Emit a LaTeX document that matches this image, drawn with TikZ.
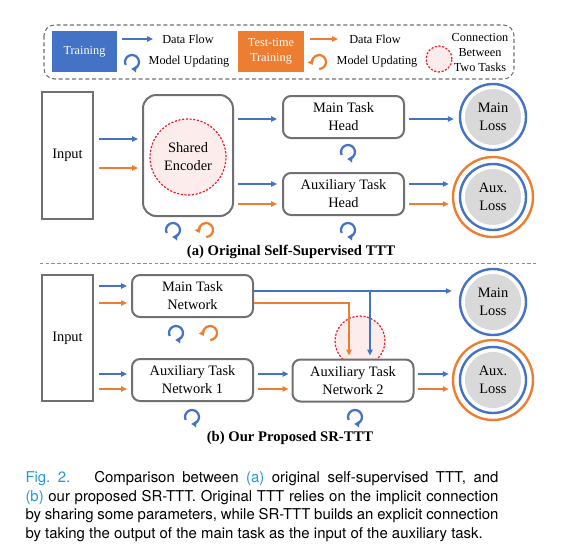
\documentclass[tikz,border=0pt]{standalone}
\usepackage{fontspec}
\setmainfont{Liberation Serif}
\newfontfamily\capfont{TeX Gyre Heros}
\usetikzlibrary{calc,arrows.meta}

\definecolor{trblue}{RGB}{68,114,196}
\definecolor{ttorange}{RGB}{237,125,49}
\definecolor{boxgray}{RGB}{112,112,112}
\definecolor{lossgray}{RGB}{217,217,217}
\definecolor{connred}{RGB}{238,28,37}
\definecolor{connpink}{RGB}{253,236,236}
\definecolor{figblue}{RGB}{35,150,220}

\newcommand{\boxfont}{\fontsize{10.8}{13.5}\selectfont}
\newcommand{\legfont}{\fontsize{9.2}{11.6}\selectfont}

\tikzset{every picture/.style={line width=0.75pt}}
\tikzset{
  blk/.style={draw=boxgray, line width=1.5pt, fill=white, rounded corners=6pt, align=center, inner sep=0pt,
    minimum width=90.75pt, minimum height=31.5pt, font=\boxfont},
  inbox/.style={draw=boxgray, line width=1.2pt, fill=white, inner sep=0pt,
    minimum width=38.25pt, minimum height=95.25pt, font=\boxfont},
  loss/.style={circle, draw=trblue, line width=1.8pt, fill=white, minimum size=49.5pt, inner sep=0pt,
    align=center, font=\boxfont,
    path picture={\fill[lossgray] (path picture bounding box.center) circle[radius=21pt];}},
  oring/.style={draw=ttorange, line width=1.8pt},
  conn/.style={circle, draw=connred, dashed, dash pattern=on 1.6pt off 1.2pt, fill=connpink, line width=0.9pt,
    inner sep=0pt, align=center, font=\boxfont},
  barr/.style={draw=trblue, line width=1.1pt, -{Triangle[length=4.5pt,width=4pt]}},
  oarr/.style={draw=ttorange, line width=1.1pt, -{Triangle[length=4.5pt,width=4pt]}},
  bloop/.pic={\draw[trblue, line width=1.7pt, -{Triangle[length=3.4pt,width=5pt]}]
    (205:7) arc[start angle=205, end angle=-92, radius=7];},
  oloop/.pic={\draw[ttorange, line width=1.7pt, -{Triangle[length=3.4pt,width=5pt]}]
    (-88:7) arc[start angle=-88, end angle=205, radius=7];}
}

\begin{document}
\begin{tikzpicture}[x=0.75pt,y=0.75pt,yscale=-1,xscale=1]
\useasboundingbox (0,0) rectangle (576,551);

%Shape: Legend frame
\draw [boxgray, dashed, dash pattern=on 3pt off 2pt, line width=0.8pt, rounded corners=8pt] (44,25) rectangle (514,79);

% Legend: training
\node [fill=trblue, text=white, inner sep=0pt, minimum width=48.75pt, minimum height=30.75pt, font=\legfont] (legTrain) at (84.5,51.5) {Training};
\coordinate (lgB1) at (122,39);
\coordinate (lgB2) at (153,39);
\draw [barr] (lgB1) -- (lgB2);
\node [font=\legfont] (lgFlowB) at (188,39) {Data Flow};
\pic at (132,62) {bloop};
\node [font=\legfont] (lgUpdB) at (189,62) {Model Updating};

% Legend: test-time training
\node [fill=ttorange, text=white, inner sep=0pt, minimum width=49.5pt, minimum height=30.75pt, align=center, font=\legfont] (legTest) at (271,51.5) {Test-time\\Training};
\coordinate (lgO1) at (310,39);
\coordinate (lgO2) at (338,39);
\draw [oarr] (lgO1) -- (lgO2);
\node [font=\legfont] (lgFlowO) at (375,39) {Data Flow};
\pic at (319,62) {oloop};
\node [font=\legfont] (lgUpdO) at (377,62) {Model Updating};

% Legend: connection
\node [conn, minimum size=19.5pt] (lgConn) at (439,59) {};
\node [align=center, font=\legfont] (lgConnTxt) at (480,52.5) {Connection\\Between\\Two Tasks};

%%%% (a) original self-supervised TTT
\node [inbox] (inA) at (67.5,155.5) {Input};
\node [blk, rounded corners=10pt, minimum width=67.5pt, minimum height=90.75pt] (enc) at (188,155.5) {};
\node [conn, minimum size=57pt] (shared) at (188,157) {Shared\\Encoder};
\node [blk] (mainHead) at (343.5,117) {Main Task\\Head};
\node [blk] (auxHead) at (343.5,194) {Auxiliary Task\\Head};
\node [loss] (mainLossA) at (493,117) {Main\\Loss};
\draw [oring] (493,197) circle [radius=40];
\node [loss] (auxLossA) at (493,197) {Aux.\\Loss};

% data flow (a)
\draw [barr] ($(inA.east)+(5,-16.5)$) -- ($(enc.west)+(-4,-16.5)$);
\draw [oarr] ($(inA.east)+(5,12.5)$) -- ($(enc.west)+(-4,12.5)$);
\draw [barr] ($(enc.east |- mainHead.west)+(4,2)$) -- ($(mainHead.west)+(-5,2)$);
\draw [barr] ($(enc.east |- auxHead.west)+(4,-10)$) -- ($(auxHead.west)+(-5,-10)$);
\draw [oarr] ($(enc.east |- auxHead.west)+(4,10)$) -- ($(auxHead.west)+(-5,10)$);
\draw [barr] ($(mainHead.east)+(4,2)$) -- ($(mainLossA.west |- mainHead.east)+(-5,2)$);
\draw [barr] ($(auxHead.east)+(4,-10)$) -- ($(auxLossA.west |- auxHead.east)+(-10,-10)$);
\draw [oarr] ($(auxHead.east)+(4,10)$) -- ($(auxLossA.west |- auxHead.east)+(-10,10)$);

% model updating (a)
\pic at (173,230) {bloop};
\pic at (206,230) {oloop};
\pic at (348,152) {bloop};
\pic at (348,230) {bloop};

% Text Node
\node [font=\bfseries\fontsize{11}{13}\selectfont] (capA) at (291,252) {(a) Original Self-Supervised TTT};

%Shape: separator
\draw [boxgray!80, dashed, dash pattern=on 2.5pt off 1.8pt, line width=0.6pt] (40,263) -- (537,263);

%%%% (b) our proposed SR-TTT
\node [inbox, minimum height=94.5pt] (inB) at (67.5,338) {Input};
\node [blk] (mainNet) at (192.5,296) {Main Task\\Network};
\node [blk] (auxNet1) at (192.5,380) {Auxiliary Task\\Network 1};
\node [conn, minimum size=37.5pt] (connB) at (360,341) {};
\node [blk] (auxNet2) at (353,380.5) {Auxiliary Task\\Network 2};
\node [loss] (mainLossB) at (493,302) {Main\\Loss};
\draw [oring] (493,380) circle [radius=40];
\node [loss] (auxLossB) at (493,380) {Aux.\\Loss};

% data flow (b)
\draw [barr] ($(inB.east)+(5,-52)$) -- ($(mainNet.west)+(-4,-10)$);
\draw [oarr] ($(inB.east)+(5,-35)$) -- ($(mainNet.west)+(-4,7)$);
\draw [barr] ($(inB.east)+(5,36)$) -- ($(auxNet1.west)+(-4,-6)$);
\draw [oarr] ($(inB.east)+(5,51)$) -- ($(auxNet1.west)+(-4,9)$);

\coordinate (mOutB) at ($(mainNet.east)+(0,-5)$);
\coordinate (mOutO) at ($(mainNet.east)+(0,7)$);
\coordinate (brB) at ($(auxNet2.north)+(17,-3)$);
\coordinate (brO) at ($(auxNet2.north)+(-4,-3)$);
\draw [barr] (mOutB) -- ($(mOutB -| mainLossB.west)+(-7,0)$);
\draw [barr] (mOutB -| brB) -- (brB);
\draw [oarr] (mOutO) -- (mOutO -| brO) -- (brO);

\draw [barr] ($(auxNet1.east)+(4,-6)$) -- ($(auxNet2.west)+(-3,-6.5)$);
\draw [oarr] ($(auxNet1.east)+(4,9)$) -- ($(auxNet2.west)+(-3,8.5)$);
\draw [barr] ($(auxNet2.east)+(3,-6.5)$) -- ($(auxLossB.west |- auxNet2.east)+(-10,-6.5)$);
\draw [oarr] ($(auxNet2.east)+(3,8.5)$) -- ($(auxLossB.west |- auxNet2.east)+(-10,8.5)$);

% model updating (b)
\pic at (176,333) {bloop};
\pic at (210,333) {oloop};
\pic at (192,417) {bloop};
\pic at (355,417) {bloop};

% Text Node
\node [font=\bfseries\fontsize{11}{13}\selectfont] (capB) at (290,438) {(b) Our Proposed SR-TTT};

% Figure caption
\node [anchor=north west, inner sep=0pt, text width=354.75pt, align=justify,
  font=\capfont\fontsize{11.2}{14}\selectfont] (figCap) at (25,471)
  {\textcolor{figblue}{Fig.~2.}\hspace{1.6em}Comparison between \textcolor{figblue}{(a)} original self-supervised TTT, and\linebreak
   \textcolor{figblue}{(b)} our proposed SR-TTT. Original TTT relies on the implicit connection\linebreak
   by sharing some parameters, while SR-TTT builds an explicit connection\linebreak
   by taking the output of the main task as the input of the auxiliary task.};

\end{tikzpicture}
\end{document}
